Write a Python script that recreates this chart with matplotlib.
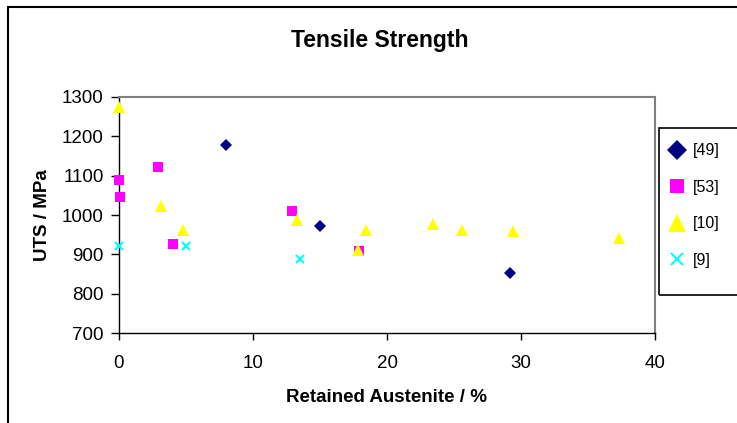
import matplotlib
matplotlib.use("Agg")
import matplotlib.pyplot as plt
from matplotlib.patches import Rectangle

plt.rcParams['font.family'] = ['Liberation Sans', 'DejaVu Sans']

# data (retained austenite %, UTS MPa)
ref49_x = [8.0, 15.0, 29.2]
ref49_y = [1177, 971, 852]

ref53_x = [0.0, 0.1, 2.9, 4.0, 12.9, 17.9]
ref53_y = [1088, 1046, 1121, 927, 1009, 909]

ref10_x = [0.0, 3.1, 4.8, 13.3, 17.8, 18.4, 23.4, 25.6, 29.4, 37.3]
ref10_y = [1275, 1024, 963, 987, 912, 963, 978, 963, 960, 942]

ref9_x = [0.0, 5.0, 13.5]
ref9_y = [920, 920, 889]

labels = ['[49]', '[53]', '[10]', '[9]']

W, H = 737, 423
fig = plt.figure(figsize=(W / 100, H / 100), dpi=100)
ax = fig.add_axes([119 / W, 1 - 333 / H, (655 - 119) / W, (333 - 97) / H])

h49, = ax.plot(ref49_x, ref49_y, 'D', color='#000080', ms=6.5, mew=0, clip_on=False, zorder=3)
h53, = ax.plot(ref53_x, ref53_y, 's', color='#FF00FF', ms=6.5, mew=0, clip_on=False, zorder=3)
h10, = ax.plot(ref10_x, ref10_y, '^', color='#FFFF00', ms=8.5, mew=0, clip_on=False, zorder=4)
h9, = ax.plot(ref9_x, ref9_y, 'x', color='#00FFFF', ms=5.5, mew=1.5, clip_on=False, zorder=3)

ax.set_xlim(0, 40)
ax.set_ylim(700, 1300)
ax.set_xticks(range(0, 41, 10))
ax.set_yticks(range(700, 1301, 100))

for s in ['top', 'right']:
    ax.spines[s].set_color('#808080')
    ax.spines[s].set_linewidth(1.5)
for s in ['left', 'bottom']:
    ax.spines[s].set_color('black')
    ax.spines[s].set_linewidth(1.0)

ax.tick_params(axis='both', direction='out', length=6, width=1, labelsize=13.5)
ax.tick_params(axis='x', length=5, pad=11)
ax.tick_params(axis='y', pad=5)

ax.set_xlabel('Retained Austenite / %', fontsize=13.5, fontweight='bold', labelpad=12)
ax.set_ylabel('UTS / MPa', fontsize=13.5, fontweight='bold', labelpad=8)
fig.text(380 / W, 1 - 40 / H, 'Tensile Strength', fontsize=16.5, fontweight='bold',
         ha='center', va='center')

# legend box runs off the right edge like in the original
fig.add_artist(Rectangle((659 / W, 1 - 295 / H), 0.2, (295 - 128) / H,
                         transform=fig.transFigure, fill=False, ec='black', lw=1.2))
fig.legend([h49, h53, h10, h9], labels, loc='upper left',
           bbox_to_anchor=(655 / W, 1 - 129 / H), frameon=False,
           fontsize=11.5, markerscale=1.5, labelspacing=1.35, handlelength=1.0,
           handletextpad=0.5)

# outer chart border
fig.add_artist(Rectangle((8 / W, -0.1), 1.0, 1.1 - 7 / H, transform=fig.transFigure,
                         fill=False, ec='black', lw=1.5))

fig.savefig('out.png', dpi=100)
